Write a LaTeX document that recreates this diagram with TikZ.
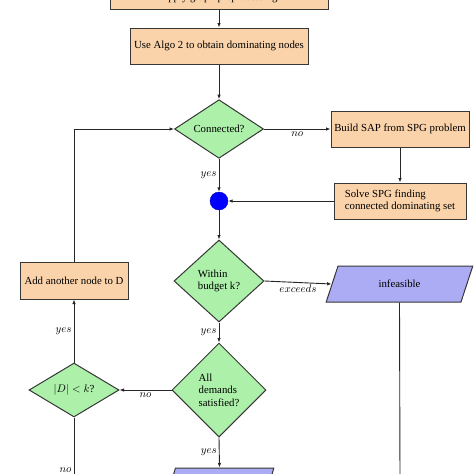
\documentclass[tikz,border=0pt]{standalone}
\usepackage{fontspec}
\setmainfont{Liberation Serif}
\usetikzlibrary{shapes.geometric,arrows.meta}
\definecolor{peach}{RGB}{251,211,170}
\definecolor{mint}{RGB}{172,240,170}
\definecolor{lav}{RGB}{172,172,245}
\definecolor{edge}{RGB}{55,55,55}
\tikzset{
  txt/.style={font=\fontsize{10.8}{12.5}\selectfont},
  proc/.style={txt,draw=edge,line width=1pt,fill=peach,rectangle,minimum height=36pt,inner sep=3pt},
  dec/.style={txt,draw=edge,line width=1pt,fill=mint,diamond,inner sep=0pt},
  io/.style={txt,draw=edge,line width=1pt,fill=lav,trapezium,trapezium left angle=72,trapezium right angle=108,trapezium stretches=true,minimum height=36pt},
  conn/.style={line width=0.9pt,draw=black!85,-{Latex[length=4.5pt,width=3.5pt]}},
  plain/.style={line width=0.9pt,draw=black!85},
  lab/.style={font=\fontsize{10.8}{12.5}\selectfont,inner sep=1pt},
}
\begin{document}
\begin{tikzpicture}[x=1pt,y=-1pt]
\useasboundingbox (0,0) rectangle (474,474);
\node[proc,minimum width=218pt,minimum height=0pt,text height=36pt,text depth=5.5pt,inner sep=4pt] (top) at (219,-15) {Apply graph preprocessing};
\node[proc,minimum width=178pt] (algo) at (219,46) {Use Algo 2 to obtain dominating nodes};
\node[dec,minimum width=89pt,minimum height=58pt] (con) at (219,129) {Connected?};
\node[proc,minimum width=138pt] (sap) at (400,129) {Build SAP from SPG problem};
\node[proc,minimum width=132pt,align=left] (solve) at (400,201) {Solve SPG finding\\connected dominating set};
\node[circle,fill=blue,draw=blue!80!black,minimum size=18pt,inner sep=0pt] (dot) at (219,201) {};
\node[dec,minimum width=90pt,minimum height=82pt,align=left] (within) at (219,281) {Within\\budget k?};
\node[io,minimum width=147pt] (inf) at (399.5,284) {infeasible};
\node[dec,minimum width=94pt,minimum height=94pt,align=left] (alld) at (219,390) {All\\demands\\satisfied?};
\node[dec,minimum width=90pt,minimum height=54pt] (dk) at (74,390) {$|D|<k$?};
\node[proc,minimum width=108pt,minimum height=37pt] (add) at (74,280.5) {Add another node to D};
\node[io,minimum width=109pt] (fin) at (219.5,486) {feasible};
\coordinate (infend) at (400,480);
\coordinate (dkend) at (74,480);
\draw[conn] (top) -- (algo);
\draw[conn] (algo) -- (con);
\draw[conn] (con.east) -- node[lab,below,pos=0.5,yshift=-1pt] {$no$} (sap.west);
\draw[conn] (sap) -- (solve);
\draw[conn] (solve.west) -- (dot.east);
\draw[conn] (con.south) -- node[lab,left,pos=0.5,xshift=-1pt] {$yes$} (dot.north);
\draw[conn] (dot.south) -- (within.north);
\draw[conn] (within.east) -- node[lab,below,pos=0.5,yshift=-1pt] {$exceeds$} (inf.west);
\draw[plain] (inf.south) -- (infend);
\draw[conn] (within.south) -- node[lab,left,pos=0.5,xshift=-1pt] {$yes$} (alld.north);
\draw[conn] (alld.west) -- node[lab,below,pos=0.5,yshift=-1pt] {$no$} (dk.east);
\draw[conn] (dk.north) -- node[lab,left,pos=0.5,xshift=-1pt] {$yes$} (add.south);
\draw[conn] (add.north) |- (con.west);
\draw[plain] (dk.south) -- node[lab,left,pos=0.84,xshift=-1pt] {$no$} (dkend);
\draw[conn] (alld.south) -- node[lab,left,pos=0.5,xshift=-1pt] {$yes$} (fin.north);
\end{tikzpicture}
\end{document}
